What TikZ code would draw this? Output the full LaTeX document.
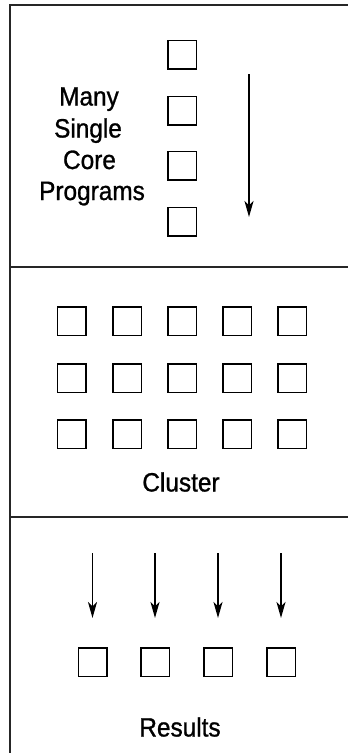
\documentclass[tikz,border=0pt]{standalone}
\usepackage{fontspec}
\setmainfont{Liberation Sans}[FakeStretch=0.92,FakeBold=1]
\usetikzlibrary{arrows.meta}
\begin{document}
\begin{tikzpicture}[x=1pt,y=-1pt,
  frame/.style={line width=2pt, draw=black!85},
  cell/.style={draw, line width=1.5pt, minimum size=28.5pt, inner sep=0pt},
  lbl/.style={anchor=base, inner sep=0pt, font=\fontsize{26.5}{31}\selectfont},
  arr/.style={line width=1.5pt, -{Stealth[length=16pt,width=9pt,inset=4.5pt]}}]
\useasboundingbox (0,0) rectangle (348,753);
% frame
\coordinate (tr) at (348,5);
\coordinate (tl) at (10,5);
\coordinate (bl) at (10,753);
\coordinate (d1l) at (10,267);
\coordinate (d1r) at (348,267);
\coordinate (d2l) at (10,517);
\coordinate (d2r) at (348,517);
\draw[frame] (tr) -- (tl) -- (bl);
\draw[frame] (d1l) -- (d1r);
\draw[frame] (d2l) -- (d2r);
% section 1
\node[lbl] (t1) at (89,105.5) {Many};
\node[lbl] (t2) at (88,137.5) {Single};
\node[lbl] (t3) at (89.5,169) {Core};
\node[lbl] (t4) at (92,200) {Programs};
\node[cell] (p1) at (182,54.5) {};
\node[cell] (p2) at (182,110.5) {};
\node[cell] (p3) at (182,165.5) {};
\node[cell] (p4) at (182,221.5) {};
\coordinate (s1) at (249,74);
\coordinate (e1) at (249,217);
\draw[arr] (s1) -- (e1);
% section 2
\foreach \x [count=\i] in {71.5,127,182,237,292}{
  \foreach \y [count=\j] in {321,378,434}{
    \node[cell] (c\j\i) at (\x,\y) {};
  }
}
\node[lbl] (cl) at (181,491.5) {Cluster};
% section 3
\foreach \x [count=\i] in {92.5,155,218,281}{
  \node[cell] (r\i) at (\x,662) {};
  \coordinate (a\i) at (\x,553);
  \draw[arr, shorten >=29pt] (a\i) -- (r\i.north);
}
\node[lbl] (res) at (180,736.5) {Results};
\end{tikzpicture}
\end{document}
